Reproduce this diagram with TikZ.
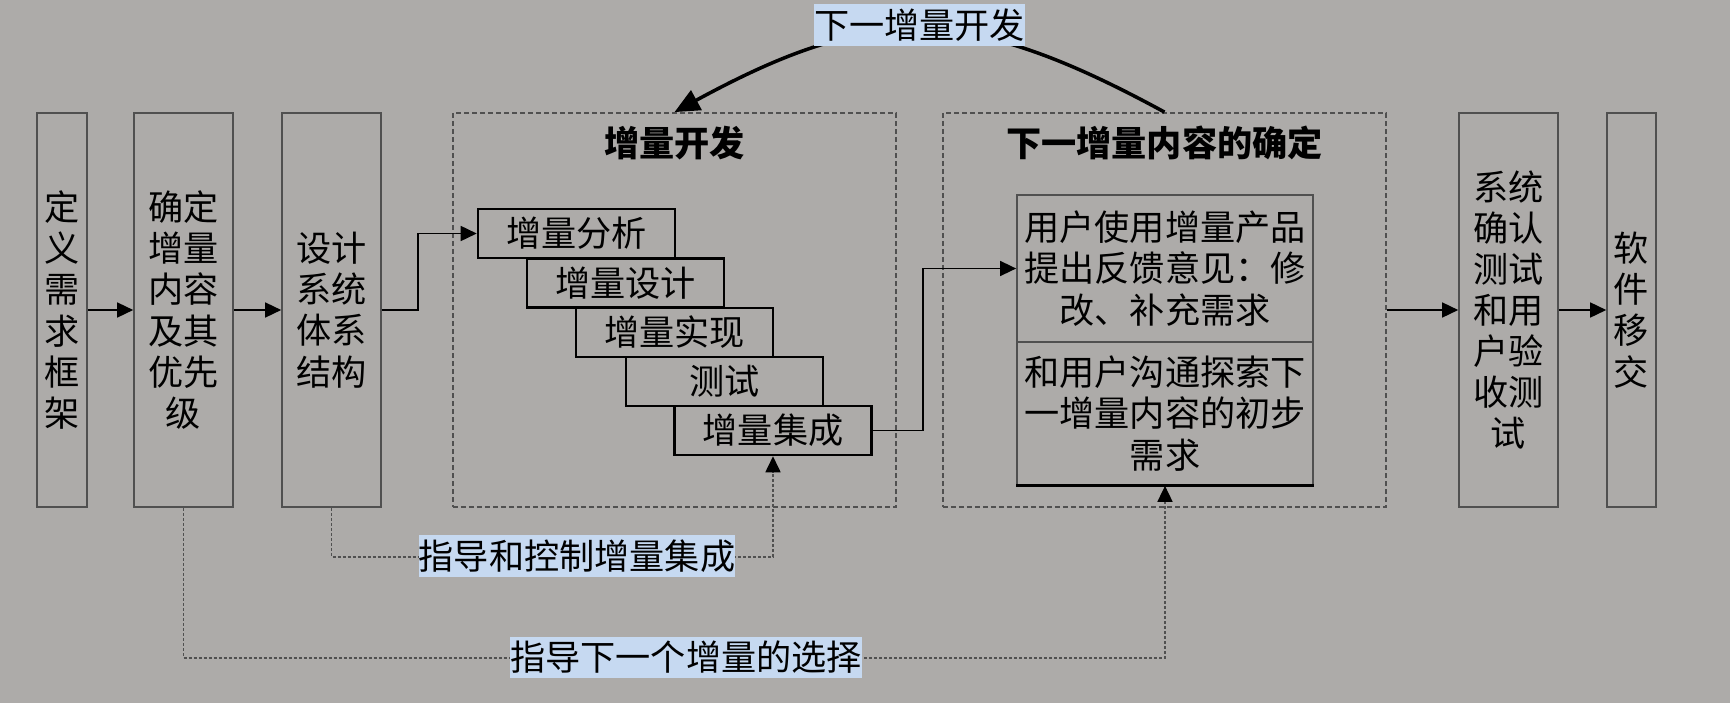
\documentclass[tikz,border=0pt]{standalone}
\usepackage{fontspec}
\setmainfont{Noto Sans CJK SC}
\usetikzlibrary{arrows.meta}
\definecolor{bggray}{RGB}{173,171,169}
\definecolor{tagblue}{RGB}{198,217,241}
\definecolor{edgegray}{RGB}{80,80,80}
\begin{document}
\begin{tikzpicture}[x=0.01cm,y=-0.01cm,
 font=\fontsize{10pt}{11.7pt}\selectfont,
 >={Triangle[length=0.16cm,width=0.15cm,color=black]},
 stage/.style={draw=edgegray,line width=0.45pt,fill=bggray,minimum height=3.94cm,inner sep=0pt,align=center},
 phase/.style={draw=black,line width=0.7pt,fill=bggray,minimum width=1.97cm,minimum height=0.49cm,inner sep=0pt},
 group/.style={draw=edgegray,line width=0.45pt,dash pattern=on 0.05cm off 0.03cm,minimum width=4.43cm,minimum height=3.94cm,inner sep=0pt},
 title/.style={font=\fontsize{10pt}{11.7pt}\selectfont\bfseries},
 note/.style={draw=edgegray,line width=0.45pt,minimum width=2.96cm,inner sep=0pt,align=center},
 flow/.style={line width=0.45pt,->},
 guide/.style={edgegray,line width=0.45pt,dash pattern=on 0.03cm off 0.02cm,->},
 tag/.style={fill=tagblue,inner xsep=0pt,inner ysep=1.2pt}]
 \fill[bggray] (0,0) rectangle (1730,703);
 \useasboundingbox (0,0) rectangle (1730,703);
 % left column of stages
 \node[stage,minimum width=0.5cm] (req) at (62,310) {定\\义\\需\\求\\框\\架};
 \node[stage,minimum width=0.99cm] (prio) at (183.5,310) {确定\\增量\\内容\\及其\\优先\\级};
 \node[stage,minimum width=0.99cm] (arch) at (331.5,310) {设计\\系统\\体系\\结构};
 % the two dashed groups
 \node[group] (devBox) at (674.5,310) {};
 \node[group] (nextBox) at (1164.5,310) {};
 \node[title] (devTitle) at (674.5,143) {增量开发};
 \node[title] (nextTitle) at (1164.5,143) {下一增量内容的确定};
 % staircase
 \node[phase] (ana) at (576.5,233.5) {增量分析};
 \node[phase] (des) at (625.5,283) {增量设计};
 \node[phase] (impl) at (674.5,332.5) {增量实现};
 \node[phase] (test) at (724.5,381.5) {测试};
 \node[phase] (integ) at (773,430.5) {增量集成};
 % next increment
 \node[note,minimum height=1.47cm] (feedback) at (1165,268.5) {用户使用增量产品\\提出反馈意见：修\\改、补充需求};
 \node[note,minimum height=1.43cm] (explore) at (1165,413.5) {和用户沟通探索下\\一增量内容的初步\\需求};
 \draw[line width=0.8pt] (explore.south west) -- (explore.south east);
 % right column
 \node[stage,minimum width=0.99cm] (sysTest) at (1508.5,310) {系统\\确认\\测试\\和用\\户验\\收测\\试};
 \node[stage,minimum width=0.49cm] (deliver) at (1631.5,310) {软\\件\\移\\交};
 % connectors
 \draw[flow] (req) -- (prio);
 \draw[flow] (prio) -- (arch);
 \draw[flow] (arch.east) -- ++(36,0) |- (ana.west);
 \draw[flow] (integ.east) -- ++(50,0) |- (feedback.west);
 \draw[flow] (nextBox) -- (sysTest);
 \draw[flow] (sysTest) -- (deliver);
 \draw[line width=1pt,-{Triangle[length=0.25cm,width=0.22cm]}] (nextBox.north) .. controls (966,4) and (873,4) .. (devBox.north);
 \node[tag] (nextInc) at (919.5,25) {下一增量开发};
 \draw[guide] (prio.south) -- ++(0,150) -| (explore.south);
 \draw[guide] (arch.south) -- ++(0,49) -| (integ.south);
 \node[tag] (guideInt) at (577,556) {指导和控制增量集成};
 \node[tag] (guideSel) at (686,657) {指导下一个增量的选择};
\end{tikzpicture}
\end{document}
